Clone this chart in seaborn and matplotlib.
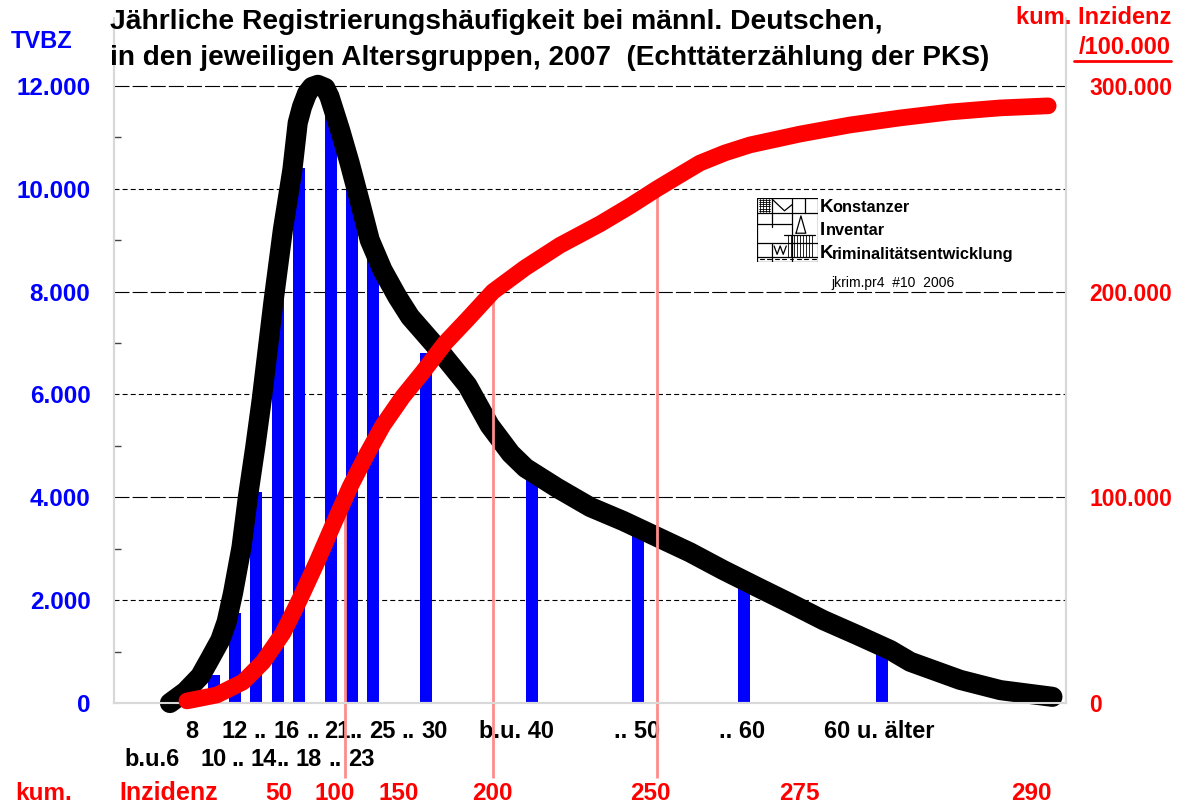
import numpy as np
import matplotlib
matplotlib.use("Agg")
import matplotlib.pyplot as plt
import matplotlib.transforms as mtransforms
from matplotlib.lines import Line2D
import seaborn as sns

# Age groups (bars drawn at the upper age bound of each group)
groups = ["8-10", "10-12", "12-14", "14-16", "16-18", "18-21", "21-23",
          "23-25", "25-30", "30-40", "40-50", "50-60", "60+"]
group_age = [10, 12, 14, 16, 18, 21, 23, 25, 30, 40, 50, 60, 73]
tvbz = [550, 1750, 4100, 7900, 10400, 11700, 10050, 8650, 6800, 4375, 3330, 2350, 970]

# Smoothed TVBZ curve (black)
curve_age = [5.85, 7.3, 8.7, 9.6, 10.6, 11.2, 11.8, 12.6, 13.2, 13.9, 14.5, 15.6, 16.5,
             17.4, 17.9, 18.3, 18.8, 19.25, 19.8, 20.5, 20.9, 21.9, 22.8, 23.8, 24.7,
             25.9, 27.3, 28.5, 31.0, 33.9, 36.0, 38.0, 39.4, 42.4, 45.5, 48.6, 51.8,
             54.9, 58.0, 61.2, 64.3, 67.5, 70.7, 73.8, 75.7, 80.4, 84.2, 89.1]
curve_tvbz = [0, 220, 520, 850, 1225, 1580, 2140, 3030, 4000, 4980, 5890, 7780, 9200,
              10370, 11280, 11590, 11860, 11980, 12020, 11960, 11790, 11140, 10500, 9720,
              9000, 8420, 7900, 7510, 6920, 6180, 5400, 4850, 4570, 4180, 3810, 3540, 3230,
              2930, 2590, 2260, 1945, 1610, 1320, 1030, 800, 450, 250, 120]

# Cumulative incidence per 100.000 (red)
cum_age = [7.45, 10.28, 12.74, 14.62, 16.51, 18.11, 19.72, 21.23, 22.83, 24.43, 25.94,
           27.83, 29.72, 31.8, 34.0, 36.32, 39.34, 42.64, 46.42, 49.25, 51.8, 53.96,
           55.85, 58.2, 60.57, 65.3, 70.0, 74.7, 79.4, 84.2, 88.7]
cum_inz = [1000, 3900, 10200, 19900, 34000, 50600, 68600, 86500, 105000, 121000, 135000,
           149000, 161000, 175000, 187000, 200000, 211500, 222500, 232900, 241600, 250000,
           256700, 262500, 267400, 271300, 276600, 281000, 284400, 287300, 289300, 290300]

inz_labels = ["50", "100", "150", "200", "250", "275", "290"]
inz_label_age = [16.1, 21.4, 27.4, 36.3, 51.2, 65.2, 87.1]
marked_levels = [100000, 200000, 250000]

left_ticks = [0, 2000, 4000, 6000, 8000, 10000, 12000]
right_ticks = [0, 100000, 200000, 300000]

# age-group text under the axis: (text, age)
row1 = [("8", 7.9), ("12", 12.0), ("..", 14.3), ("16", 16.9), ("..", 19.3), ("21", 21.6),
        ("..", 23.4), ("25", 25.85), ("..", 28.3), ("30", 30.85), ("b.u. 40", 38.5),
        (".. 50", 49.9), (".. 60", 59.8), ("60 u. älter", 72.8)]
row2 = [("b.u.6", 4.15), ("10", 10.0), ("..", 12.3), ("14", 14.7), ("..", 16.5),
        ("18", 18.9), ("..", 21.4), ("23", 23.9)]

BLUE = "#0000ff"
RED = "#ff0000"
PINK = "#ff8c8c"
GRAY = "#d8d8d8"

sns.set_style("white")
plt.rcParams["font.family"] = ["Liberation Sans", "DejaVu Sans"]
plt.rcParams["font.weight"] = "bold"
plt.rcParams["text.color"] = "black"

W, H = 1188, 807
fig = plt.figure(figsize=(W / 100, H / 100), dpi=100)
ax = fig.add_axes([114 / W, 1 - 703 / H, (1066 - 114) / W, (703 - 18) / H])
ax2 = ax.twinx()

ymax = 13320
ax.set_xlim(0.57, 90.38)
ax.set_ylim(0, ymax)
ax2.set_ylim(0, ymax * 25)

# grid lines
for v in [2000, 6000, 10000]:
    ax.axhline(v, color="black", lw=0.8, dashes=(4.5, 2.8), zorder=0)
for v in [4000, 8000, 12000]:
    ax.axhline(v, color="black", lw=0.8, dashes=(13.5, 2.8), zorder=0)

# bars
sns.barplot(x=group_age, y=tvbz, native_scale=True, width=0.57, color=BLUE,
            saturation=1, linewidth=0, ax=ax, zorder=2)

# black curve
sns.lineplot(x=curve_age, y=curve_tvbz, sort=False, color="black", lw=14.5, ax=ax,
             solid_capstyle="round", solid_joinstyle="round", clip_on=False, zorder=3)

# pink marker lines + red cumulative curve
mark_x = np.interp(marked_levels, cum_inz, cum_age)
ax2.vlines(mark_x, -36500, marked_levels, color=PINK, lw=2, clip_on=False, zorder=1)
sns.lineplot(x=cum_age, y=cum_inz, sort=False, color=RED, lw=12, ax=ax2,
             solid_capstyle="round", solid_joinstyle="round", clip_on=False, zorder=3)

# axes styling
ax.set_xticks([])
ax.set_xlabel("")
ax.set_ylabel("")
ax2.set_ylabel("")
ax.set_yticks(left_ticks)
ax.set_yticklabels([f"{v:,}".replace(",", ".") for v in left_ticks])
ax.set_yticks(range(1000, 12000, 2000), minor=True)
ax.tick_params(axis="y", which="major", length=0, pad=17, labelsize=17.5, labelcolor=BLUE)
ax.tick_params(axis="y", which="minor", direction="in", length=5, width=1, color="#444444")
ax2.set_yticks(right_ticks)
ax2.set_yticklabels([f"{v:,}".replace(",", ".") for v in right_ticks])
ax2.tick_params(axis="y", length=0, pad=17, labelsize=16.5, labelcolor=RED)
for a in (ax, ax2):
    a.spines["top"].set_visible(False)
    for s in ("left", "right", "bottom"):
        a.spines[s].set_color(GRAY)
        a.spines[s].set_linewidth(1.5)
    for lab in a.get_yticklabels():
        lab.set_fontweight("bold")

# titles / axis captions
fig.text(110 / W, 1 - 22 / H, "Jährliche Registrierungshäufigkeit bei männl. Deutschen,",
         fontsize=20.3, va="center", ha="left")
fig.text(110 / W, 1 - 58 / H, "in den jeweiligen Altersgruppen, 2007  (Echttäterzählung der PKS)",
         fontsize=20.2, va="center", ha="left")
fig.text(42 / W, 1 - 42 / H, "TVBZ", color=BLUE, fontsize=17, ha="center", va="center")
fig.text(1171 / W, 1 - 18 / H, "kum. Inzidenz", color=RED, fontsize=17, ha="right", va="center")
fig.text(1171 / W, 1 - 47 / H, "/100.000", color=RED, fontsize=17, ha="right", va="center")
fig.add_artist(Line2D([1074 / W, 1171 / W], [1 - 61 / H, 1 - 61 / H], color=RED, lw=2))

# labels under the axis
tr = mtransforms.blended_transform_factory(ax.transData, fig.transFigure)
for s, x in row1:
    ax.text(x, 1 - 731 / H, s, transform=tr, ha="center", va="center", fontsize=17)
for s, x in row2:
    ax.text(x, 1 - 759 / H, s, transform=tr, ha="center", va="center", fontsize=17)
fig.text(44 / W, 1 - 793 / H, "kum.", color=RED, fontsize=17.5, ha="center", va="center")
ax.text(5.75, 1 - 793 / H, "Inzidenz", transform=tr, color=RED, fontsize=18,
        ha="center", va="center")
for s, x in zip(inz_labels, inz_label_age):
    ax.text(x, 1 - 793 / H, s, transform=tr, color=RED, fontsize=17.5, ha="center", va="center")

# KIK logo
lax = fig.add_axes([757 / W, 1 - 262 / H, 61 / W, 64 / H])
lax.set_xlim(0, 1)
lax.set_ylim(0, 1)
lax.axis("off")
k = dict(color="black", lw=0.9)
lax.plot([0, 1, 1, 0, 0], [0, 0, 1, 1, 0], **k)
lax.plot([0.58, 0.58], [0, 1], **k)
lax.plot([0.78, 0.78], [0.76, 1], **k)
lax.plot([0.25, 0.25], [0.55, 1], **k)
lax.plot([0, 1], [0.76, 0.76], **k)
lax.plot([0, 0.58], [0.6, 0.6], **k)
lax.plot([0, 1], [0.3, 0.3], **k)
lax.plot([0, 1], [0.08, 0.08], **k)
lax.plot([0.25, 0.25], [0, 0.3], **k)
for yy in np.linspace(0.8, 0.97, 6):
    lax.plot([0.03, 0.22], [yy, yy], color="black", lw=0.6)
for xx in np.linspace(0.05, 0.2, 4):
    lax.plot([xx, xx], [0.78, 0.98], color="black", lw=0.6)
lax.plot([0.25, 0.45, 0.58], [0.98, 0.8, 0.9], **k)
lax.plot([0.64, 0.72, 0.8, 0.64], [0.45, 0.72, 0.45, 0.45], **k)
for xx in np.linspace(0.5, 0.9, 9):
    lax.plot([xx, xx], [0.08, 0.42], color="black", lw=0.6)
lax.plot([0.45, 0.95], [0.42, 0.42], **k)
lax.plot([0.28, 0.33, 0.38, 0.43, 0.48], [0.25, 0.12, 0.25, 0.12, 0.25], **k)
for xx in np.linspace(0.05, 0.9, 8):
    lax.plot([xx, xx + 0.06], [0.04, 0.04], color="black", lw=0.8)

for big, rest, y in [("K", "onstanzer", 207), ("I", "nventar", 231),
                     ("K", "riminalitätsentwicklung", 254)]:
    fig.text(820 / W, 1 - y / H, big, fontsize=13.5, ha="left", va="center")
    off = 832 if big == "K" else 826
    fig.text(off / W, 1 - y / H, rest, fontsize=11.8, ha="left", va="center")
fig.text(831 / W, 1 - 283 / H, "jkrim.pr4  #10  2006", fontsize=10, fontweight="normal",
         ha="left", va="center")

fig.savefig("out.png", dpi=100)
